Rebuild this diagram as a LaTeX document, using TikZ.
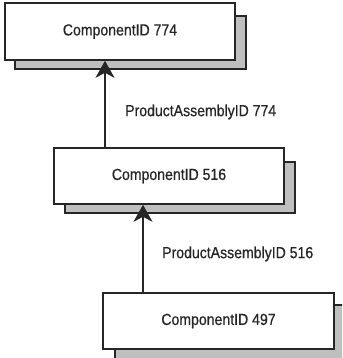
\documentclass[tikz,border=0pt]{standalone}
\usepackage{fontspec}
\setmainfont{Liberation Sans}
\newfontfamily\narrowfont[FakeStretch=0.88,FakeBold=0.6]{Liberation Sans}
\usetikzlibrary{arrows.meta}
\begin{document}
\begin{tikzpicture}[x=1pt,y=-1pt,
  shadowbox/.style={draw=black!85,fill=black!25,line width=1.6pt},
  compbox/.style={draw=black!85,fill=white,line width=1.6pt,inner sep=0pt,font=\narrowfont\fontsize{16}{18}\selectfont,text=black!85},
  lbl/.style={anchor=west,inner sep=0pt,font=\narrowfont\fontsize{16}{18}\selectfont,text=black!85},
  conn/.style={draw=black!85,line width=1.6pt,-{Stealth[length=17pt,width=19pt,inset=5pt]}}]
\useasboundingbox (0,0) rectangle (342,358);
\begin{scope}
\clip (0,0) rectangle (342,358);
% shadows
\draw[shadowbox] (15,16) rectangle (246,69);
\draw[shadowbox] (65,162) rectangle (295,213);
\draw[shadowbox] (115,305) rectangle (350,365);
\end{scope}
% boxes
\node[compbox,minimum width=230pt,minimum height=57pt] (c774) at (120,31.5) {ComponentID 774};
\node[compbox,minimum width=230pt,minimum height=56pt] (c516) at (169,176) {ComponentID 516};
\node[compbox,minimum width=231pt,minimum height=56pt] (c497) at (218.5,321) {ComponentID 497};
% connectors
\draw[conn] (c516.north -| 105,0) -- (c774.south -| 105,0);
\draw[conn] (c497.north -| 143,0) -- (c516.south -| 143,0);
% labels
\node[lbl] (l774) at (125,112) {ProductAssemblyID 774};
\node[lbl] (l516) at (162,254) {ProductAssemblyID 516};
\end{tikzpicture}
\end{document}
